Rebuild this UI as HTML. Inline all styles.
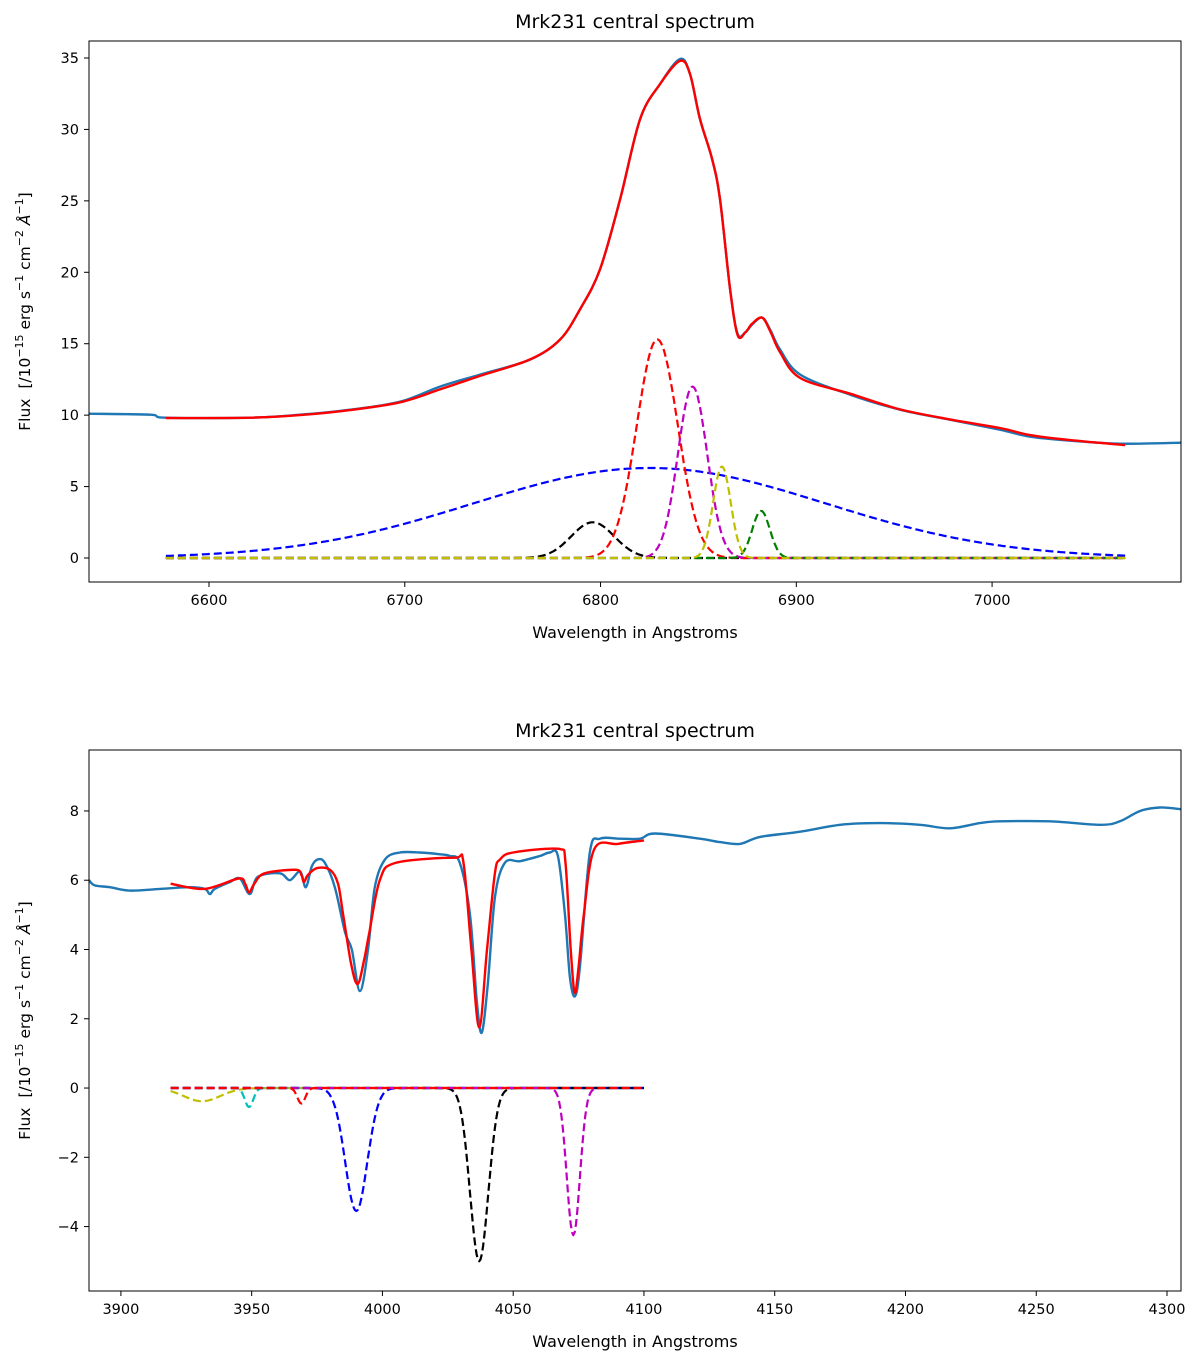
<!DOCTYPE html>
<html><head><meta charset="utf-8"><style>
html,body{margin:0;padding:0;background:#fff;}
svg{display:block;font-family:"DejaVu Sans","Liberation Sans",sans-serif;}
</style></head><body>
<svg id="fig" width="1200" height="1360" xmlns="http://www.w3.org/2000/svg"></svg>
<script>
// ---------- TOP PANEL DATA ----------
const topSpecWave=[6538.7,6569.9,6577.5,6620.9,6646.5,6672,6697.6,6718,6738.4,6764,6779.3,6789.5,6799.7,6810,6820.2,6830.4,6840.6,6845.7,6850.8,6857,6861,6866.2,6870,6874,6877.4,6882.5,6886.6,6891.7,6902,6927.5,6953,6978.5,7004,7019.4,7039.8,7065.4,7096.5];
const topSpecFlux=[10.1,10.03,9.82,9.82,10.03,10.38,10.94,12.0,12.84,13.89,15.29,17.4,20.2,25.11,30.72,33.18,34.93,33.88,30.72,27.92,25.11,18.8,15.7,15.8,16.34,16.83,15.99,14.59,12.84,11.43,10.38,9.68,8.98,8.49,8.21,8.0,8.07];
const topFitWave=[6578,6620.9,6646.5,6672,6697.6,6718,6738.4,6764,6779.3,6789.5,6799.7,6810,6820.2,6830.4,6840.6,6845.7,6850.8,6857,6861,6866.2,6870,6874,6877.4,6882.5,6886.6,6891.7,6902,6927.5,6953,6978.5,7004,7019.4,7039.8,7068];
const topFitFlux=[9.8,9.82,10.0,10.35,10.9,11.8,12.75,13.9,15.29,17.4,20.2,25.11,30.72,33.18,34.8,33.88,30.72,27.92,25.11,18.8,15.6,15.8,16.4,16.83,15.9,14.4,12.6,11.5,10.4,9.7,9.1,8.6,8.25,7.9];
const topCompCenter=[6825,6796,6829,6847,6882,6862];
const topCompAmp=[6.3,2.5,15.3,12.0,3.3,6.4];
const topCompSigma=[90,11,10.5,7.5,4.5,4.5];
const topCompColor=['#0000ff','#000000','#ff0000','#bf00bf','#008000','#bfbf00'];
const topXTicks=[6600,6700,6800,6900,7000];
const topYTicks=[0,5,10,15,20,25,30,35];
// ---------- BOTTOM PANEL DATA ----------
const botSpecWave=[3887.8,3890,3895.8,3903.4,3914.9,3926.4,3932.1,3934,3935.9,3941.7,3945.5,3949.3,3952.4,3960.8,3964.6,3968.5,3970.7,3973,3975.3,3978,3981.8,3985.7,3988.3,3991.4,3994.5,3997.1,4001,4006.7,4014.3,4022,4025.8,4029.6,4033.5,4036.1,4038,4040.3,4043,4046.8,4052.6,4060.2,4064,4067.1,4069.8,4071.7,4073.6,4075.5,4079.3,4083.2,4090.8,4098.5,4104.2,4121.4,4129.1,4136.7,4144.4,4159.7,4175,4190.2,4205.5,4217,4228.5,4236.1,4255.3,4274.4,4282,4289.7,4297.3,4305.4];
const botSpecFlux=[6.0,5.85,5.8,5.7,5.75,5.8,5.75,5.6,5.75,5.95,6.05,5.6,6.1,6.2,6.0,6.25,5.8,6.4,6.6,6.5,5.8,4.5,4.0,2.8,4.0,5.8,6.6,6.8,6.8,6.75,6.7,6.5,5.0,2.5,1.6,3.0,5.5,6.5,6.55,6.7,6.8,6.7,5.0,3.2,2.65,3.5,6.8,7.2,7.2,7.2,7.35,7.2,7.1,7.05,7.25,7.4,7.6,7.65,7.6,7.5,7.65,7.7,7.7,7.6,7.7,8.0,8.1,8.05];
const botFitWave=[3919,3932,3945,3947.5,3949,3951,3955,3967,3969,3970,3971.5,3975,3980,3983,3985,3988,3990.5,3993,3995,3999,4005,4028,4031,4034,4037,4040,4043,4045,4050,4068,4070,4072,4073.5,4075,4077,4081,4090,4100];
const botFitFlux=[5.9,5.75,6.05,5.9,5.65,5.9,6.2,6.3,6.15,5.95,6.15,6.35,6.3,5.9,5.0,3.6,3.0,3.7,4.5,6.0,6.5,6.65,6.5,4.0,1.75,4.0,6.2,6.6,6.8,6.9,6.5,4.0,2.75,3.5,5.0,6.9,7.05,7.15];
const botCompCenter=[3931,3949,3990,4037,4073,3969];
const botCompAmp=[-0.38,-0.55,-3.55,-5.0,-4.25,-0.45];
const botCompSigma=[7,1.6,4.2,3.5,2.5,1.5];
const botCompColor=['#bfbf00','#00bfbf','#0000ff','#000000','#bf00bf','#ff0000'];
const botXTicks=[3900,3950,4000,4050,4100,4150,4200,4250,4300];
const botYTicks=[-4,-2,0,2,4,6,8];

const NS='http://www.w3.org/2000/svg';
const svg=document.getElementById('fig');
function mk(tag,attrs,parent){const e=document.createElementNS(NS,tag);for(const k in attrs)e.setAttribute(k,attrs[k]);(parent||svg).appendChild(e);return e;}
function smoothPath(pts){
  let d='M'+pts[0][0].toFixed(1)+','+pts[0][1].toFixed(1);
  for(let i=0;i<pts.length-1;i++){
    const p0=pts[i-1]||pts[i],p1=pts[i],p2=pts[i+1],p3=pts[i+2]||p2;
    const t=0.5/3;
    const c1=[p1[0]+(p2[0]-p0[0])*t,p1[1]+(p2[1]-p0[1])*t];
    const c2=[p2[0]-(p3[0]-p1[0])*t,p2[1]-(p3[1]-p1[1])*t];
    c1[0]=Math.min(Math.max(c1[0],p1[0]),p2[0]);c2[0]=Math.min(Math.max(c2[0],p1[0]),p2[0]);
    d+=' C'+c1[0].toFixed(1)+','+c1[1].toFixed(1)+' '+c2[0].toFixed(1)+','+c2[1].toFixed(1)+' '+p2[0].toFixed(1)+','+p2[1].toFixed(1);
  }
  return d;
}

function panel(cfg){
  const g=mk('g',{});
  
  
  const L=89,R=1181,T=cfg.top,B=cfg.bottom;
  const sx=v=>L+(v-cfg.xmin)/(cfg.xmax-cfg.xmin)*(R-L);
  const sy=v=>B-(v-cfg.ymin)/(cfg.ymax-cfg.ymin)*(B-T);
  const clipId='clip'+cfg.name;
  const cp=mk('clipPath',{id:clipId},g);mk('rect',{x:L,y:T,width:R-L,height:B-T},cp);
  const plot=mk('g',{'clip-path':'url(#'+clipId+')'},g);
  const line=(xs,ys,attrs,name,smooth)=>{
    const pts=xs.map((x,i)=>[sx(x),sy(ys[i])]);
    const d=smooth?smoothPath(pts):'M'+pts.map(p=>p[0].toFixed(1)+','+p[1].toFixed(1)).join(' L');
    const p=mk('path',Object.assign({d:d,fill:'none','stroke-linejoin':'round'},attrs),plot);
    
    
  };
  cfg.cc.forEach((c,i)=>{
    const xs=[],ys=[];
    for(let w=cfg.fitMin;w<=cfg.fitMax+1e-6;w+=0.5){xs.push(w);ys.push(cfg.ca[i]*Math.exp(-((w-c)**2)/(2*cfg.cs[i]**2)));}
    line(xs,ys,{stroke:cfg.col[i],'stroke-width':2.2,'stroke-dasharray':'8,4'},'component-'+(i+1),false);
  });
  line(cfg.sw,cfg.sf,{stroke:'#1f77b4','stroke-width':2.4},'observed-spectrum',true);
  line(cfg.fw,cfg.ff,{stroke:'#ff0000','stroke-width':2.4},'model-fit',true);
  const fr=mk('rect',{x:L,y:T,width:R-L,height:B-T,fill:'none',stroke:'#000','stroke-width':1},g);
  
  cfg.xt.forEach(t=>{
    const x=sx(t);mk('line',{x1:x,x2:x,y1:B,y2:B+5,stroke:'#000'},g);
    const tx=mk('text',{x:x,y:B+23,'text-anchor':'middle','font-size':14.5,fill:'#000'},g);tx.textContent=t;
    
  });
  cfg.yt.forEach(t=>{
    const y=sy(t);mk('line',{x1:L-5,x2:L,y1:y,y2:y,stroke:'#000'},g);
    const tx=mk('text',{x:L-10,y:y+5,'text-anchor':'end','font-size':14.5,fill:'#000'},g);tx.textContent=(t<0?'\u2212'+(-t):t);
    
  });
  const ti=mk('text',{x:635,y:T-13,'text-anchor':'middle','font-size':19},g);ti.textContent='Mrk231 central spectrum';
  
  const xl=mk('text',{x:635,y:B+56,'text-anchor':'middle','font-size':16},g);xl.textContent='Wavelength in Angstroms';
  
  const yc=(T+B)/2;
  const yl=mk('text',{x:0,y:0,'text-anchor':'middle','font-size':15.5,transform:'translate(30,'+yc+') rotate(-90)'},g);
  
  yl.innerHTML='Flux \u00a0[/10<tspan dy="-7" font-size="11">\u221215</tspan><tspan dy="7"> erg s</tspan><tspan dy="-7" font-size="11">\u22121</tspan><tspan dy="7"> cm</tspan><tspan dy="-7" font-size="11">\u22122</tspan><tspan dy="7" font-style="italic"> \u00c5</tspan><tspan dy="-7" font-size="11">\u22121</tspan><tspan dy="7">]</tspan>';
}
panel({name:'top-panel',top:41,bottom:582,xmin:6538.7,xmax:7096.5,ymin:-1.68,ymax:36.19,fitMin:6578,fitMax:7068,
  sw:topSpecWave,sf:topSpecFlux,fw:topFitWave,ff:topFitFlux,cc:topCompCenter,ca:topCompAmp,cs:topCompSigma,col:topCompColor,xt:topXTicks,yt:topYTicks});
panel({name:'bottom-panel',top:750,bottom:1291,xmin:3887.8,xmax:4305.35,ymin:-5.86,ymax:9.76,fitMin:3919,fitMax:4100,
  sw:botSpecWave,sf:botSpecFlux,fw:botFitWave,ff:botFitFlux,cc:botCompCenter,ca:botCompAmp,cs:botCompSigma,col:botCompColor,xt:botXTicks,yt:botYTicks});
</script>
</body></html>
